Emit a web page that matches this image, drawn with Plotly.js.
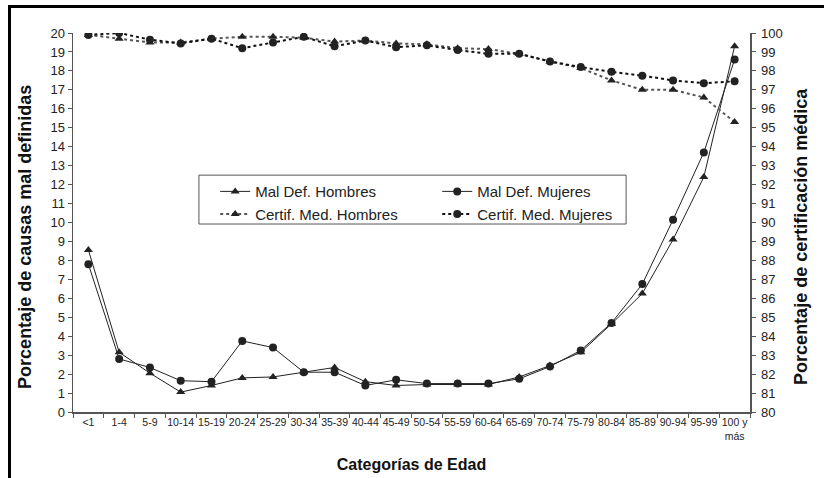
<!DOCTYPE html>
<html>
<head>
<meta charset="utf-8">
<script src="https://cdn.plot.ly/plotly-3.0.1.min.js"></script>
<style>
html,body{margin:0;padding:0;background:#fff;}
#wrap{position:relative;width:824px;height:478px;overflow:hidden;}
#chart{width:824px;height:478px;}
#frame{position:absolute;left:8px;top:5px;width:900px;height:600px;border-left:3px solid #000;border-top:3px solid #000;pointer-events:none;}
</style>
</head>
<body>
<div id="wrap"><div id="chart"></div><div id="frame"></div></div>
<script>
const categorias = ['<1','1-4','5-9','10-14','15-19','20-24','25-29','30-34','35-39','40-44','45-49','50-54','55-59','60-64','65-69','70-74','75-79','80-84','85-89','90-94','95-99','100 y<br>más'];
const malDefHombres = [8.55,3.15,2.05,1.05,1.4,1.8,1.85,2.1,2.35,1.6,1.4,1.45,1.45,1.45,1.85,2.45,3.15,4.65,6.25,9.1,12.4,19.3];
const malDefMujeres = [7.8,2.8,2.35,1.65,1.6,3.75,3.4,2.1,2.1,1.4,1.7,1.5,1.5,1.5,1.75,2.4,3.25,4.7,6.75,10.15,13.7,18.6];
const certifHombres = [99.9,99.7,99.5,99.5,99.7,99.8,99.8,99.75,99.55,99.6,99.45,99.4,99.2,99.15,98.9,98.5,98.15,97.5,97.0,97.0,96.6,95.3];
const certifMujeres = [99.9,100.0,99.65,99.45,99.7,99.2,99.5,99.8,99.3,99.6,99.25,99.35,99.1,98.9,98.9,98.5,98.2,97.95,97.75,97.5,97.35,97.45];
const tituloX = 'Categorías de Edad';
const tituloY1 = 'Porcentaje de causas mal definidas';
const tituloY2 = 'Porcentaje de certificación médica';

const F = 'Liberation Sans, Arial, sans-serif';
const ink = '#222';
const axisCol = '#555';

const traces = [
  {x: categorias, y: malDefHombres, name: 'Mal Def. Hombres', type: 'scatter', mode: 'lines+markers',
   line: {color: ink, width: 1}, marker: {symbol: 'triangle-up', size: 8, color: ink}, legend: 'legend', xaxis:'x', yaxis:'y'},
  {x: categorias, y: malDefMujeres, name: 'Mal Def. Mujeres', type: 'scatter', mode: 'lines+markers',
   line: {color: ink, width: 1}, marker: {symbol: 'circle', size: 8, color: ink}, legend: 'legend2', xaxis:'x', yaxis:'y'},
  {x: categorias, y: certifHombres, name: 'Certif. Med. Hombres', type: 'scatter', mode: 'lines+markers',
   line: {color: '#555', width: 2, dash: 'dot'}, marker: {symbol: 'triangle-up', size: 8, color: ink}, legend: 'legend', xaxis:'x', yaxis:'y2'},
  {x: categorias, y: certifMujeres, name: 'Certif. Med. Mujeres', type: 'scatter', mode: 'lines+markers',
   line: {color: '#111', width: 2, dash: '3px,3px'}, marker: {symbol: 'circle', size: 8, color: ink}, legend: 'legend2', xaxis:'x', yaxis:'y2'}
];

const layout = {
  width: 824, height: 478,
  margin: {l: 73, r: 74, t: 33, b: 66},
  paper_bgcolor: '#fff', plot_bgcolor: '#fff',
  font: {family: F, color: ink, size: 13},
  showlegend: true,
  xaxis: {
    type: 'category', tickson: 'boundaries', ticks: 'outside', ticklen: 4, tickcolor: axisCol,
    showline: true, linecolor: axisCol, linewidth: 1.5, showgrid: false, zeroline: false,
    tickfont: {size: 10.5, family: F, color: ink}, tickangle: 0,
    title: {text: tituloX, font: {size: 16, family: F, color: '#111', weight: 'bold'}, standoff: 18},
    range: [-0.5, 21.5]
  },
  xaxis2: {
    overlaying: 'x', anchor: 'y', type: 'linear', range: [-0.5, 21.5], tickmode: 'linear', tick0: -0.5, dtick: 1,
    ticks: 'inside', ticklen: 4, tickcolor: axisCol, showticklabels: false, showline: false, showgrid: false, zeroline: false
  },
  yaxis: {
    range: [0, 20], dtick: 1, ticks: 'outside', ticklen: 4, tickcolor: axisCol,
    showline: true, linecolor: axisCol, linewidth: 1.5, showgrid: false, zeroline: false,
    tickfont: {size: 13, family: F, color: ink}
  },
  yaxis3: {
    overlaying: 'y', anchor: 'x', side: 'left', range: [0, 20], dtick: 1, ticks: 'inside', ticklen: 4, tickcolor: axisCol,
    showticklabels: false, showline: false, showgrid: false, zeroline: false
  },
  yaxis2: {
    overlaying: 'y', side: 'right', anchor: 'x', range: [80, 100], dtick: 1, ticks: 'outside', ticklen: 4, tickcolor: axisCol,
    showline: true, linecolor: axisCol, linewidth: 1.5, showgrid: false, zeroline: false,
    tickfont: {size: 13, family: F, color: ink}, ticklabelstandoff: 3
  },
  yaxis4: {
    overlaying: 'y', side: 'right', anchor: 'x', range: [80, 100], dtick: 1, ticks: 'inside', ticklen: 4, tickcolor: axisCol,
    showticklabels: false, showline: false, showgrid: false, zeroline: false
  },
  legend: {x: 0.21, y: 0.625, xanchor: 'left', yanchor: 'top', orientation: 'v', bgcolor: 'rgba(0,0,0,0)',
    borderwidth: 0, font: {size: 15, family: F, color: ink}, tracegroupgap: 0, itemwidth: 30},
  legend2: {x: 0.538, y: 0.625, xanchor: 'left', yanchor: 'top', orientation: 'v', bgcolor: 'rgba(0,0,0,0)',
    borderwidth: 0, font: {size: 15, family: F, color: ink}, tracegroupgap: 0, itemwidth: 30},
  shapes: [
    {type: 'rect', xref: 'paper', yref: 'paper', x0: 0.186, x1: 0.817, y0: 0.496, y1: 0.625,
     line: {color: '#555', width: 1}, fillcolor: '#fff', layer: 'below'}
  ],
  annotations: [
    {text: tituloY1, xref: 'paper', yref: 'paper', x: 0, y: 0.462, xshift: -48, xanchor: 'center', yanchor: 'middle',
     textangle: -90, showarrow: false, font: {size: 18, family: F, color: '#111', weight: 'bold'}},
    {text: tituloY2, xref: 'paper', yref: 'paper', x: 1, y: 0.462, xshift: 51, xanchor: 'center', yanchor: 'middle',
     textangle: -90, showarrow: false, font: {size: 18, family: F, color: '#111', weight: 'bold'}}
  ]
};

Plotly.newPlot('chart', traces, layout, {displayModeBar: false, staticPlot: true});
</script>
</body>
</html>
